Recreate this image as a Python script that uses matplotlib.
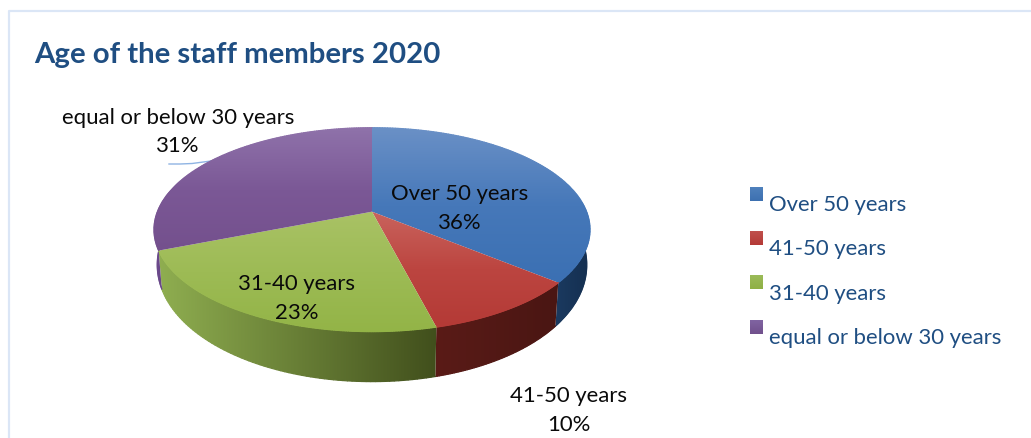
import numpy as np
import matplotlib
matplotlib.use("Agg")
import matplotlib.pyplot as plt
from matplotlib.collections import LineCollection
from matplotlib.colors import LinearSegmentedColormap
from matplotlib.patches import Polygon

plt.rcParams['font.family'] = ['Lato', 'DejaVu Sans']

# Chart content
title = "Age of the staff members 2020"
categories = ["Over 50 years", "41-50 years", "31-40 years", "equal or below 30 years"]
shares = [36, 10, 23, 31]

# Slice colours: top face (light, mid, dark) and side wall (left, right)
top_colors = [("#6a90c6", "#4678b9", "#3b70b3"), ("#c9635d", "#bc4540", "#b43a36"),
              ("#a9c265", "#9dbb55", "#93b447"), ("#8f72aa", "#7b5896", "#74508d")]
side_colors = [("#1b3a60", "#142f50"), ("#5a1b17", "#4a1613"),
               ("#8fae50", "#414f1c"), ("#6d4b8e", "#5e3f7c")]
legend_colors = [("#4f81bd", "#3d70b0"), ("#c0504d", "#b43a36"),
                 ("#9bbb59", "#8fb044"), ("#8064a2", "#71508c")]

W, H = 1031, 439
fig = plt.figure(figsize=(W / 100, H / 100), dpi=100, facecolor="white")
ax = fig.add_axes([0, 0, 1, 1])
ax.set_xlim(0, W)
ax.set_ylim(H, 0)
ax.axis("off")
ax.set_autoscale_on(False)

# Perspective model of the pie disc
CX, CY = 372.0, 212.7
RX, RY, PERSP = 214.6, 98.8, 0.176


def top_rim(theta_deg):
    t = np.radians(theta_deg)
    u, v = np.cos(t), np.sin(t)
    den = 1 + PERSP * v
    return CX + RX * u / den, CY - RY * v / den


def bottom_rim(theta_deg):
    x, y = top_rim(theta_deg)
    v = np.sin(np.radians(theta_deg))
    return CX + (x - CX) * 0.985, y + 32 - 18 * v


def gradient_fill(pts, stops, horizontal, z):
    """Fill a polygon with a linear colour ramp; returns the ramp's colormap."""
    pts = np.asarray(pts)
    x0, x1 = pts[:, 0].min(), pts[:, 0].max()
    y0, y1 = pts[:, 1].min(), pts[:, 1].max()
    ramp = np.linspace(0, 1, 256)
    ramp = ramp[None, :] if horizontal else ramp[:, None]
    cmap = LinearSegmentedColormap.from_list("ramp", list(stops))
    patch = Polygon(pts, closed=True, transform=ax.transData, fc="none", ec="none")
    ax.add_patch(patch)
    im = ax.imshow(ramp, cmap=cmap, extent=(x0, x1, y1, y0), aspect="auto",
                   interpolation="bilinear", zorder=z)
    im.set_clip_path(patch)
    return cmap, (x0, x1, y0, y1)


def shaded_edge(xs, ys, cmap, frac, z):
    """Smooth a clipped edge with a thin line that follows the ramp colours."""
    segs = np.stack([np.c_[xs[:-1], ys[:-1]], np.c_[xs[1:], ys[1:]]], axis=1)
    colors = cmap(np.clip(frac[:-1], 0, 1))
    ax.add_collection(LineCollection(segs, colors=colors, linewidths=0.9,
                                     capstyle="round", zorder=z))


# Slice boundaries, clockwise from twelve o'clock
edges = 90 - np.cumsum([0] + shares) * 3.6

# Side walls (front half only)
FRONT_LEFT, FRONT_RIGHT = -195.0, 5.0
for i in range(len(shares)):
    a = min(edges[i], FRONT_RIGHT)
    b = max(edges[i + 1], FRONT_LEFT)
    if a <= b:
        continue
    th = np.linspace(a, b, 80)
    tx, ty = top_rim(th)
    bx, by = bottom_rim(th)
    pts = np.vstack([np.c_[tx, ty], np.c_[bx, by][::-1]])
    cmap, (x0, x1, _, _) = gradient_fill(pts, side_colors[i], True, 2 + i * 0.01)
    shaded_edge(bx, by, cmap, (bx - x0) / (x1 - x0), 2.5)

# Top faces
for i in range(len(shares)):
    th = np.linspace(edges[i], edges[i + 1], 160)
    tx, ty = top_rim(th)
    pts = np.vstack([[CX, CY], np.c_[tx, ty]])
    cmap, (_, _, y0, y1) = gradient_fill(pts, top_colors[i], False, 3 + i * 0.01)
    shaded_edge(tx, ty, cmap, (ty - y0) / (y1 - y0), 3.5)

# Panel border, open towards the right and the bottom
border = "#dbe6f6"
ax.plot([8.5, 8.5, W], [H, 11.5, 11.5], color=border, lw=1.6, zorder=1)

# Title
ax.text(34, 55.5, title, fontsize=21.2, fontweight="bold", color="#1f4e82",
        ha="left", va="center", zorder=6)

# Data labels
label_pos = [(460, 208.5), (569, 410.5), (297, 298.5), (178, 132)]
for name, share, (lx, ly) in zip(categories, shares, label_pos):
    ax.text(lx, ly, f"{name}\n{share}%", fontsize=15.9, color="#0a0a0a", ha="center",
            va="center", linespacing=1.54, zorder=6)

# Leader line of the top-left label
ax.plot([169, 180, 192, 211], [165, 165, 164.5, 162], color="#8fb4e3", lw=1.0, zorder=2)

# Legend
for i, name in enumerate(categories):
    sy = 188 + 44.2 * i
    sq = [(750, sy), (763, sy), (763, sy + 14), (750, sy + 14)]
    gradient_fill(sq, legend_colors[i], False, 5)
    ax.text(769, sy + 17.3, name, fontsize=15.9, color="#1f4e82", ha="left", va="center", zorder=6)

fig.savefig("out.png", dpi=100, facecolor="white")
